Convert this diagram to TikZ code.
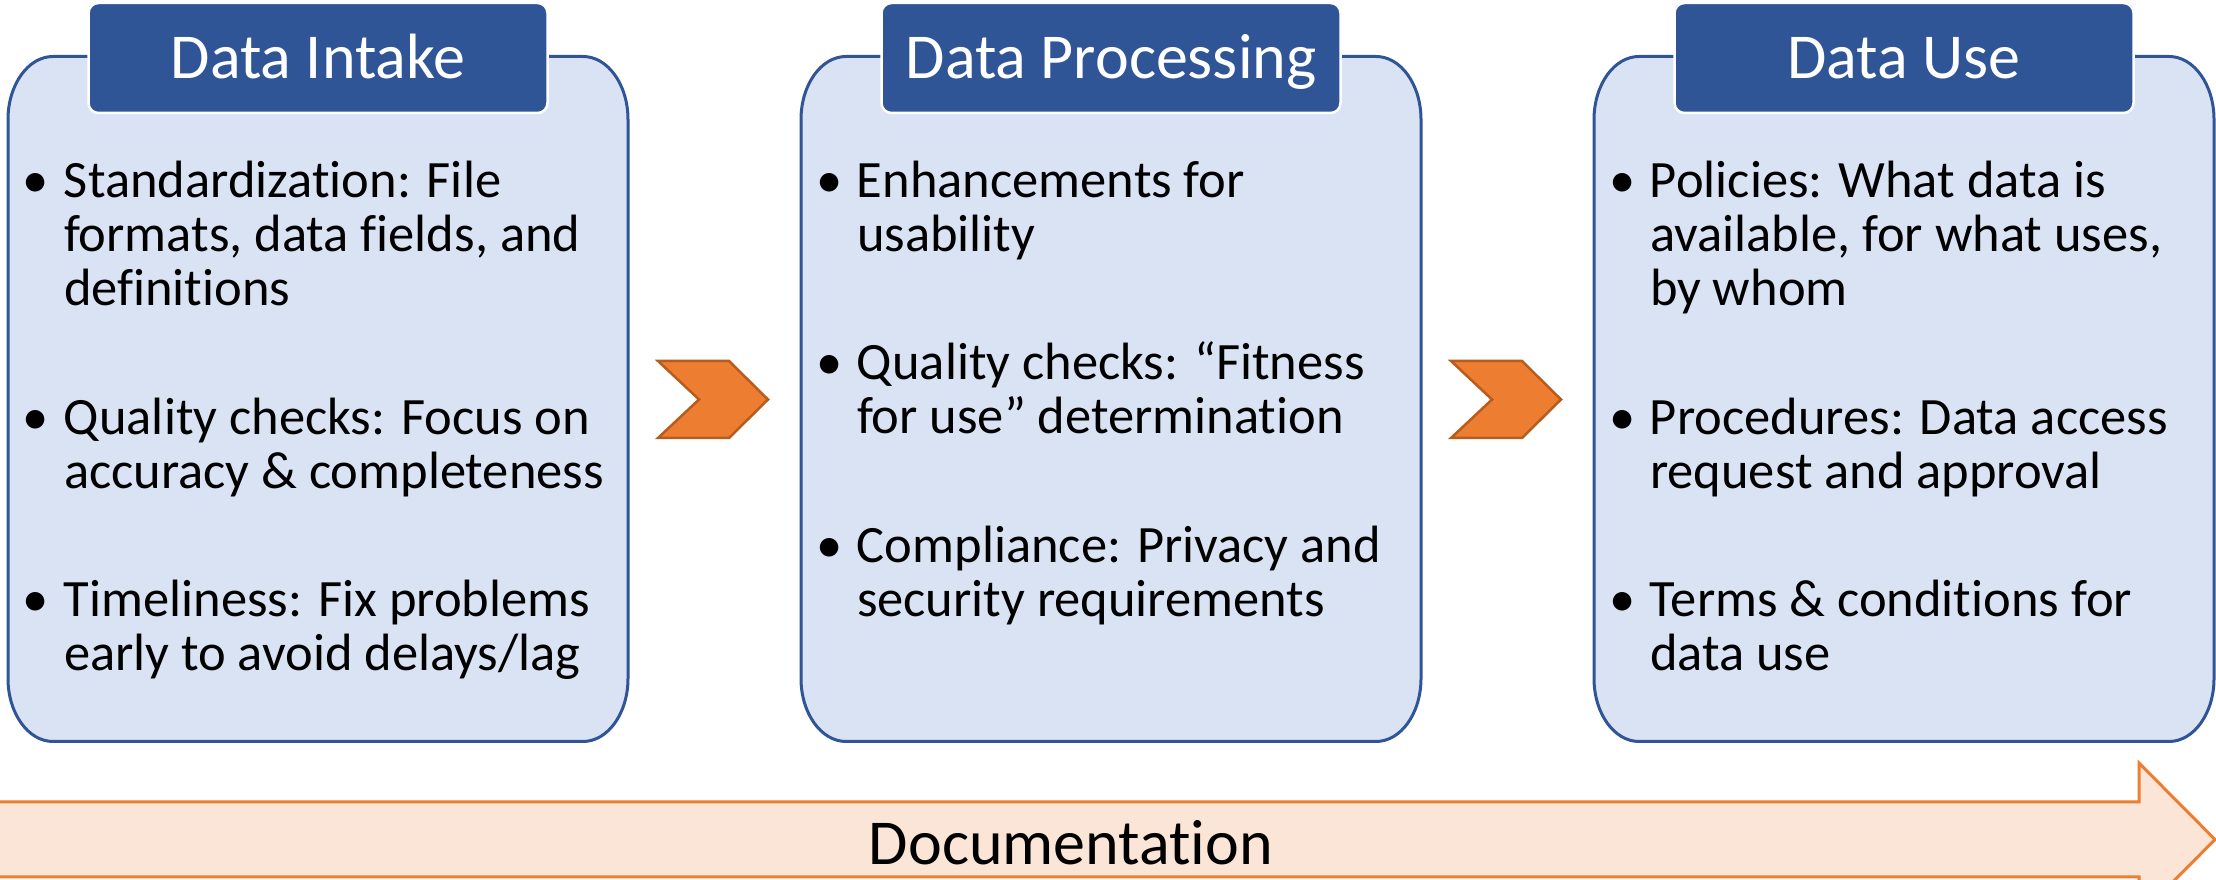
\documentclass[tikz,border=0pt]{standalone}
\usepackage{fontspec}
\setmainfont{Carlito}[Ligatures={TeX,NoCommon,NoContextual}]
\usetikzlibrary{calc}
\definecolor{boxfill}{HTML}{DAE3F3}
\definecolor{boxline}{HTML}{2F5597}
\definecolor{hdrfill}{HTML}{2F5597}
\definecolor{chevfill}{HTML}{ED7D31}
\definecolor{chevline}{HTML}{B85C1E}
\definecolor{arrfill}{HTML}{FBE5D6}
\definecolor{arrline}{HTML}{ED7D31}
\newcommand\bodyfont{\fontsize{52.5}{54}\selectfont}
\newcommand\hdrfont{\fontsize{64}{70}\selectfont}
\newcommand\itm[1]{\makebox[41pt][l]{\textbullet}\begin{tabular}[t]{@{}l@{}}#1\end{tabular}}
\newcommand\panelpath[1]{%
  \draw[panelline] ($(#1.north west)+(45,0)$) -- ($(#1.north east)+(-45,0)$)
    arc[start angle=90,end angle=0,x radius=45,y radius=63]
    -- ($(#1.south east)+(0,63)$)
    arc[start angle=0,end angle=-90,x radius=45,y radius=63]
    -- ($(#1.south west)+(45,0)$)
    arc[start angle=270,end angle=180,x radius=45,y radius=63]
    -- ($(#1.north west)+(0,-63)$)
    arc[start angle=180,end angle=90,x radius=45,y radius=63] -- cycle;}
\newcommand\chevpath[1]{%
  \draw[chev] ($(#1)+(-55,38.5)$) -- ($(#1)+(16,38.5)$) -- ($(#1)+(55,0)$)
    -- ($(#1)+(16,-38.5)$) -- ($(#1)+(-55,-38.5)$) -- ($(#1)+(-14,0)$) -- cycle;}
\begin{document}
\begin{tikzpicture}[x=1pt,y=1pt,
  panel/.style={draw=none,minimum width=620pt,minimum height=685pt,inner sep=0pt,outer sep=0pt},
  panelline/.style={draw=boxline,fill=boxfill,line width=3pt},
  hdr/.style={fill=hdrfill,draw=white,line width=2.5pt,rounded corners=10pt,minimum width=459pt,minimum height=110pt,text=white,font=\hdrfont,text height=41pt,text depth=0pt,inner sep=0pt},
  item/.style={anchor=base west,inner sep=0pt,outer sep=0pt,font=\bodyfont},
  chev/.style={fill=chevfill,draw=chevline,line width=2.5pt,line join=miter},
  docarrow/.style={fill=arrfill,draw=arrline,line width=3pt,line join=miter},
  doclabel/.style={font=\hdrfont,text height=41pt,text depth=0pt,inner sep=0pt}]
\useasboundingbox (0,0) rectangle (2216,880);
% panels
\node[panel] (b1) at (318,481) {};
\node[panel] (b2) at (1111,481) {};
\node[panel] (b3) at (1904,481) {};
\panelpath{b1}
\panelpath{b2}
\panelpath{b3}
% headers
\node[hdr] (h1) at (318,822) {Data Intake};
\node[hdr] (h2) at (1111,822) {Data Processing};
\node[hdr] (h3) at (1904,822) {Data Use};
% items panel 1
\node[item] (t11) at (23,682) {\itm{Standardization: File\\formats, data fields, and\\definitions}};
\node[item] (t12) at (23,445) {\itm{Quality checks: Focus on\\accuracy \& completeness}};
\node[item] (t13) at (23,263) {\itm{Timeliness: Fix problems\\early to avoid delays/lag}};
% items panel 2
\node[item] (t21) at (816,682) {\itm{Enhancements for\\usability}};
\node[item] (t22) at (816,500) {\itm{Quality checks: “Fitness\\for use” determination}};
\node[item] (t23) at (816,317) {\itm{Compliance: Privacy and\\security requirements}};
% items panel 3
\node[item] (t31) at (1609,682) {\itm{Policies: What data is\\available, for what uses,\\by whom}};
\node[item] (t32) at (1609,445) {\itm{Procedures: Data access\\request and approval}};
\node[item] (t33) at (1609,263) {\itm{Terms \& conditions for\\data use}};
% chevrons
\coordinate (c1) at (713,480.5);
\coordinate (c2) at (1506,480.5);
\chevpath{c1}
\chevpath{c2}
% documentation arrow
\coordinate (a0) at (-5,40.5);
\coordinate (atip) at (2215,40.5);
\draw[docarrow] ($(a0)+(0,37.5)$) -- ($(atip)+(-76,37.5)$) -- ($(atip)+(-76,76.5)$) -- (atip)
  -- ($(atip)+(-76,-76.5)$) -- ($(atip)+(-76,-37.5)$) -- ($(a0)+(0,-37.5)$) -- cycle;
\node[doclabel] (doc) at (1071,36) {Documentation};
\end{tikzpicture}
\end{document}
